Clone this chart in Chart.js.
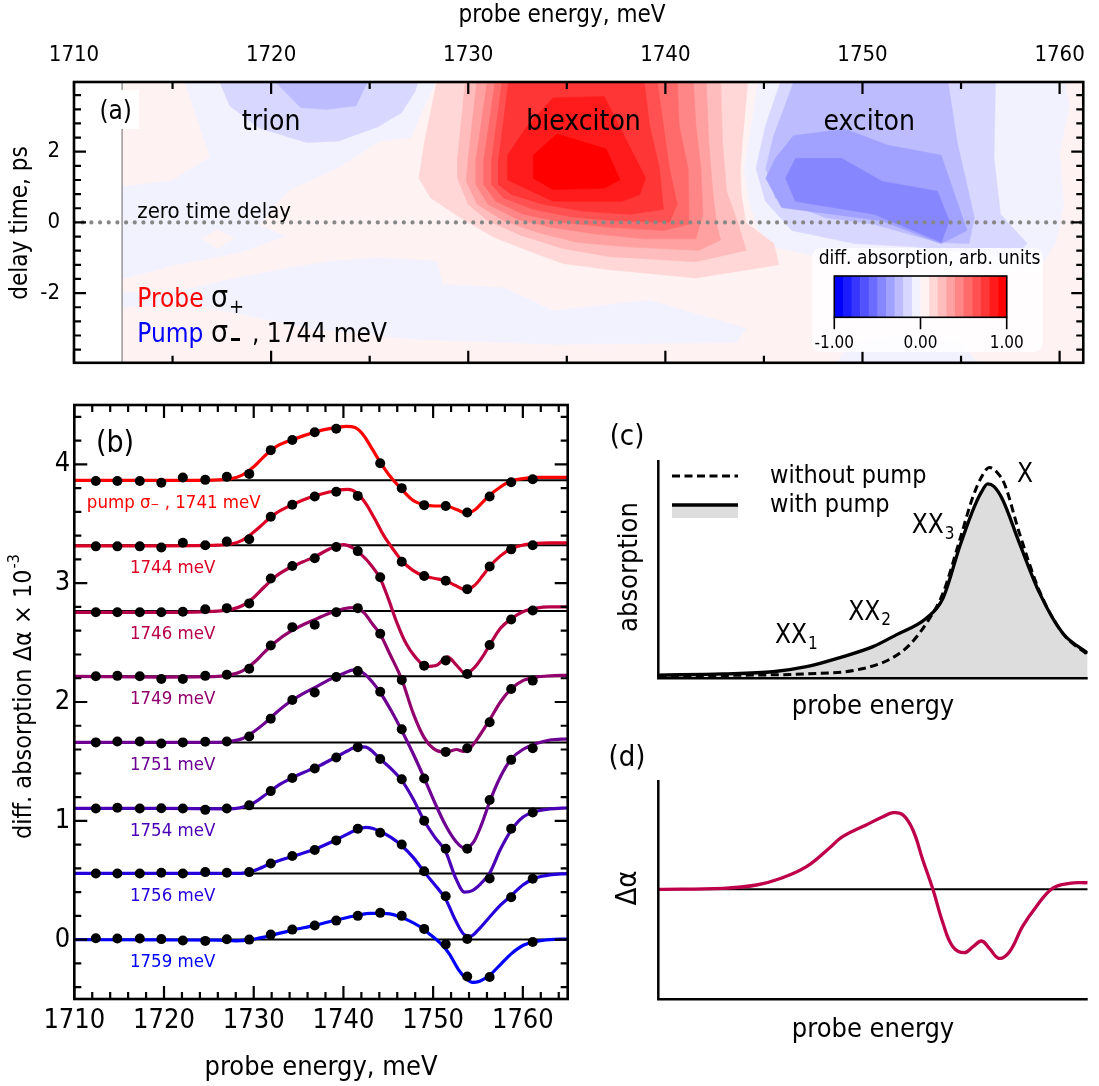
<!DOCTYPE html>
<html>
<head>
<meta charset="utf-8">
<script src="https://cdn.jsdelivr.net/npm/chart.js"></script>
<style>
  body { margin: 0; background: #fff; width: 1099px; height: 1086px; position: relative; overflow: hidden; }
  canvas { position: absolute; }
  #ca { left: 0; top: 0; }
  #cb { left: 0; top: 370px; }
  #cc { left: 590px; top: 400px; }
  #cd { left: 590px; top: 730px; }
</style>
</head>
<body>
<canvas id="ca" width="1099" height="390"></canvas>
<canvas id="cb" width="580" height="716"></canvas>
<canvas id="cc" width="509" height="330"></canvas>
<canvas id="cd" width="509" height="356"></canvas>
<script>
var FONT = "'DejaVu Sans Condensed', 'DejaVu Sans', sans-serif";
Chart.defaults.font.family = FONT;
Chart.defaults.color = '#000';

// ---------- panel (a): probe energy vs delay map ----------
var topTicks = [1710, 1720, 1730, 1740, 1750, 1760];
var topMinor = [1715, 1725, 1735, 1745, 1755];
var delayTicks = [-2, 0, 2];
var delayMinor = [-3.6, -3.2, -2.8, -2.4, -1.6, -1.2, -0.8, -0.4, 0.4, 0.8, 1.2, 1.6, 2.4, 2.8, 3.2, 3.6];
var colorbarTicks = [-1, 0, 1];

// contour outlines [probe energy meV, delay ps]
var mapArea = [[1712.44,-4.1],[1762,-4.1],[1762,4.1],[1712.44,4.1]];
var faintBlueNW = [[1715.55,4.1],[1716.9,1.84],[1715.0,1.19],[1712.44,1.0],[1712.44,-1.6],[1715.0,-1.22],[1718.4,-0.85],[1720.75,-0.38],[1719.4,-0.1],[1720.1,0.45],[1720.9,0.91],[1723.45,1.56],[1725.5,2.3],[1727.1,2.4],[1727.5,2.95],[1728.45,4.1]];
var faintPinkDot = [[1716.5,-0.45],[1717.3,-0.2],[1718.1,-0.45],[1717.3,-0.75]];
var faintBlueS = [[1712.44,-2.0],[1715.7,-1.9],[1718,-1.6],[1720.8,-1.3],[1723,-1.1],[1725.4,-1.0],[1728.4,-1.1],[1728.7,-1.75],[1731.8,-1.85],[1734.3,-2.5],[1739.2,-2.2],[1744.1,-3.0],[1743.6,-3.4],[1734.3,-3.45],[1727.1,-3.3],[1722,-3.0],[1718.5,-2.6],[1715.7,-2.3],[1712.44,-2.4]];
var faintBlueE = [[1744.74,4.1],[1744.3,2.5],[1744.0,1.5],[1744.3,0.5],[1744.7,-0.2],[1745.6,-0.7],[1748,-1.0],[1752,-1.15],[1756,-1.3],[1759,-1.25],[1759.8,-0.6],[1760.2,0.5],[1760.0,2.0],[1760.5,3.3],[1760.2,4.1]];
var faintBlueSE = [[1748.5,-4.1],[1749.5,-3.4],[1752,-3.2],[1755,-3.4],[1756,-4.1]];

var biex2 = [[1728.45,4.1],[1727.78,2.27],[1727.5,1.25],[1728.1,0.69],[1729.6,0.14],[1731.3,-0.42],[1733.0,-0.79],[1734.8,-1.16],[1737.2,-1.34],[1741.55,-1.57],[1745.75,-1.2],[1745.5,-0.6],[1744.07,0.0],[1743.85,0.8],[1743.8,1.5],[1743.9,2.27],[1744.2,4.1]];
var biex3 = [[1729.87,4.1],[1729.46,1.81],[1729.46,1.25],[1730.0,0.51],[1731.0,0.05],[1732.7,-0.37],[1734.8,-0.74],[1737.2,-0.97],[1741.55,-1.11],[1744.1,-0.79],[1743.7,-0.05],[1743.1,0.88],[1742.9,2.27],[1742.8,4.1]];
var biex4 = [[1730.46,4.1],[1730.0,1.81],[1729.9,1.16],[1730.46,0.51],[1731.8,0.05],[1733.5,-0.28],[1735.5,-0.56],[1738.0,-0.69],[1741.7,-0.79],[1742.8,-0.5],[1742.6,-0.05],[1742.4,0.88],[1742.2,2.27],[1742.06,4.1]];
var biex5 = [[1731.0,4.1],[1730.4,1.81],[1730.4,1.06],[1731.0,0.51],[1732.5,0.09],[1734.2,-0.14],[1736.4,-0.32],[1738.9,-0.46],[1741.55,-0.46],[1741.9,0.23],[1741.8,1.53],[1741.55,2.73],[1741.4,4.1]];
var biex6 = [[1731.4,4.1],[1730.8,1.81],[1730.8,1.06],[1731.4,0.6],[1732.8,0.23],[1734.8,0.0],[1737.2,-0.14],[1739.9,-0.23],[1741.2,-0.05],[1741.15,1.53],[1740.7,2.73],[1740.6,4.1]];
var biex7 = [[1731.75,4.1],[1731.2,1.81],[1731.2,1.06],[1731.8,0.69],[1733.3,0.37],[1735.2,0.16],[1737.5,0.05],[1740.2,0.0],[1740.6,0.51],[1740.2,1.53],[1739.9,2.73],[1739.56,4.1]];
var biex8 = [[1732.07,4.1],[1731.55,1.81],[1731.55,1.06],[1732.2,0.79],[1733.8,0.51],[1735.8,0.32],[1738.2,0.23],[1739.9,0.37],[1739.7,1.53],[1739.2,2.73],[1738.9,4.1]];
var biex9 = [[1732.0,1.9],[1733.0,2.73],[1734.3,3.52],[1736.9,3.56],[1737.9,2.45],[1739.0,1.25],[1738.7,0.79],[1737.8,0.6],[1734.3,0.6],[1732.0,1.2]];
var biex10 = [[1733.3,1.9],[1734.5,2.5],[1737.0,2.08],[1737.7,1.2],[1736.9,0.97],[1734.3,0.93],[1733.3,1.25]];

var trion2 = [[1717.3,4.1],[1717.9,3.3],[1719.4,2.67],[1721.8,2.26],[1723.4,2.3],[1725.4,2.7],[1726.6,3.1],[1727.3,3.7],[1727.5,4.1]];
var trion3 = [[1720.0,4.1],[1721.5,3.25],[1722.8,3.2],[1724.3,3.3],[1725.0,4.1]];

var exc2 = [[1745.92,4.1],[1745.08,2.73],[1744.6,1.53],[1745.08,0.6],[1746.43,-0.23],[1749.62,-0.6],[1752.64,-0.69],[1755.67,-0.88],[1757.68,-0.97],[1758.35,-0.6],[1757.0,0.23],[1756.67,1.81],[1756.75,4.1]];
var exc3 = [[1746.6,4.1],[1745.5,2.45],[1745.1,1.53],[1745.58,0.69],[1748.1,0.14],[1750.6,-0.05],[1753.8,-0.56],[1755.4,-0.6],[1755.67,0.14],[1754.8,2.27],[1754.3,4.1]];
var exc4 = [[1746.5,2.45],[1745.58,1.81],[1745.1,1.25],[1745.9,0.42],[1750.96,0.05],[1753.99,-0.6],[1755.3,-0.23],[1753.99,1.9],[1751.3,2.18],[1749.1,2.64]];
var exc5 = [[1746.6,1.81],[1746.1,1.25],[1746.6,0.6],[1750.6,0.23],[1754.0,-0.56],[1754.4,0.05],[1753.8,0.88],[1751.0,1.16],[1748.95,1.81]];

// contour level of each outline (tenths of full scale, sign = red/blue)
var mapLayers = [
  [mapArea, 1], [faintBlueNW, -1], [faintPinkDot, 1], [faintBlueS, -1], [faintBlueE, -1], [faintBlueSE, -1],
  [biex2, 2], [biex3, 3], [biex4, 4], [biex5, 5], [biex6, 6], [biex7, 7], [biex8, 8], [biex9, 9], [biex10, 10],
  [trion2, -2], [trion3, -3],
  [exc2, -2], [exc3, -3], [exc4, -4], [exc5, -5]
];

// ---------- panel (b): spectra ----------
var probeE = [1712.4,1714.8,1717.3,1719.7,1722.1,1724.6,1727.0,1729.5,1731.9,1734.3,1736.8,1739.2,1741.6,1744.1,1746.5,1749.0,1751.4,1753.8,1756.3,1758.7,1761.1];
var pumpLabels = ['pump \u03c3\u208b , 1741 meV', '1744 meV', '1746 meV', '1749 meV', '1751 meV', '1754 meV', '1756 meV', '1759 meV'];
var offsets = [3.867, 3.319, 2.765, 2.217, 1.66, 1.105, 0.557, 0];
var energyTicks = [1710, 1720, 1730, 1740, 1750, 1760];
var energyMinor = [1712,1714,1716,1718,1722,1724,1726,1728,1732,1734,1736,1738,1742,1744,1746,1748,1752,1754,1756,1758,1762,1764];
var dAlphaTicks = [0, 1, 2, 3, 4];
var dAlphaMinor = [-0.4,-0.2,0.2,0.4,0.6,0.8,1.2,1.4,1.6,1.8,2.2,2.4,2.6,2.8,3.2,3.4,3.6,3.8,4.2,4.4];

var dots1741 = [3.86,3.86,3.86,3.845,3.89,3.87,3.895,3.92,4.12,4.205,4.27,4.30,null,4.01,3.80,3.657,3.65,3.595,3.73,3.85,3.875];
var dots1744 = [3.31,3.31,3.31,3.30,3.34,3.32,3.35,3.37,3.56,3.66,3.73,3.77,3.735,null,3.18,3.06,3.02,2.95,3.14,3.285,3.32];
var dots1746 = [2.756,2.756,2.756,2.756,2.76,2.78,2.79,2.83,3.04,3.145,3.21,3.305,3.27,3.05,null,2.306,2.35,2.236,2.48,2.695,2.77];
var dots1749 = [2.217,2.22,2.217,2.194,2.194,2.22,2.23,2.28,2.475,2.63,2.65,2.756,2.79,2.574,2.186,null,1.58,1.61,1.83,2.11,2.18];
var dots1751 = [1.66,1.668,1.668,1.651,1.66,1.665,1.668,1.71,1.86,2.017,2.08,2.21,2.26,2.087,1.77,1.356,null,0.765,1.175,1.513,1.61];
var dots1754 = [1.103,1.11,1.103,1.106,1.103,1.092,1.103,1.13,1.25,1.36,1.44,1.533,1.62,1.52,1.35,1.0,0.765,null,0.515,0.934,1.07];
var dots1756 = [0.557,0.557,0.557,0.563,0.557,0.568,0.563,0.568,0.64,0.703,0.754,0.835,0.934,0.90,0.80,0.576,0.365,0.005,null,0.357,0.512];
var dots1759 = [0.012,0.01,0.01,0.004,-0.008,-0.011,0.003,0.0,0.042,0.084,0.118,0.16,0.20,0.225,0.20,0.09,-0.04,-0.31,-0.315,null,-0.02];

var fit1741 = [[1710,3.865],[1720,3.865],[1726,3.87],[1727.5,3.88],[1728.7,3.91],[1730,3.98],[1731.2,4.07],[1732.5,4.15],[1734,4.20],[1735.5,4.24],[1737,4.275],[1738,4.295],[1739.2,4.31],[1740.3,4.32],[1741.3,4.31],[1742.3,4.24],[1743.2,4.13],[1744.1,4.02],[1745.2,3.90],[1746.5,3.79],[1747.7,3.70],[1749,3.66],[1750.2,3.65],[1751.4,3.65],[1752.6,3.62],[1753.7,3.59],[1754.7,3.62],[1755.5,3.68],[1756.3,3.74],[1757.5,3.81],[1758.7,3.86],[1760,3.88],[1761.5,3.89],[1763,3.89],[1765,3.89]];
var fit1744 = [[1710,3.315],[1720,3.315],[1726,3.32],[1727.5,3.33],[1728.7,3.36],[1730,3.43],[1731.2,3.51],[1732.5,3.59],[1734,3.65],[1735.5,3.70],[1737,3.74],[1738.3,3.765],[1739.5,3.785],[1740.5,3.79],[1741.5,3.76],[1742.5,3.67],[1743.5,3.54],[1744.5,3.40],[1745.5,3.29],[1746.5,3.19],[1747.7,3.11],[1749,3.06],[1750.2,3.04],[1751.4,3.02],[1752.5,2.98],[1753.6,2.945],[1754.6,2.98],[1755.5,3.06],[1756.3,3.14],[1757.5,3.23],[1758.7,3.29],[1760,3.32],[1761.5,3.335],[1763,3.34],[1765,3.34]];
var fit1746 = [[1710,2.755],[1720,2.755],[1726,2.765],[1727.5,2.78],[1728.7,2.81],[1730,2.88],[1731.2,2.97],[1732.5,3.06],[1734,3.13],[1735.5,3.18],[1737,3.23],[1738.5,3.29],[1740,3.325],[1741,3.30],[1742,3.24],[1743,3.16],[1744.1,3.04],[1745,2.87],[1746,2.66],[1747,2.49],[1748,2.38],[1749.2,2.30],[1750.4,2.31],[1751.6,2.38],[1752.6,2.31],[1753.6,2.24],[1754.6,2.29],[1755.5,2.38],[1756.3,2.48],[1757.5,2.62],[1758.7,2.70],[1760,2.76],[1761.5,2.79],[1763,2.80],[1765,2.80]];
var fit1749 = [[1710,2.215],[1720,2.21],[1726,2.215],[1727.5,2.23],[1728.7,2.26],[1730,2.33],[1731.2,2.42],[1732.5,2.51],[1734,2.59],[1735.5,2.65],[1737,2.70],[1738.5,2.75],[1740,2.785],[1741.2,2.795],[1742.3,2.75],[1743.3,2.65],[1744.1,2.57],[1745.2,2.40],[1746.5,2.19],[1747.8,1.90],[1749,1.70],[1750,1.61],[1751,1.58],[1751.8,1.585],[1752.6,1.60],[1753.4,1.585],[1754.2,1.62],[1755.2,1.72],[1756.3,1.85],[1757.5,2.0],[1758.7,2.11],[1760,2.18],[1761.5,2.21],[1763,2.22],[1765,2.225]];
var fit1751 = [[1710,1.66],[1720,1.66],[1726,1.66],[1727.5,1.67],[1728.7,1.69],[1730,1.75],[1731.2,1.82],[1732.5,1.91],[1734,2.0],[1735.5,2.07],[1737,2.13],[1738.5,2.19],[1740,2.24],[1741.2,2.27],[1742.3,2.24],[1743.2,2.17],[1744.1,2.08],[1745.3,1.93],[1746.5,1.76],[1747.8,1.56],[1749,1.36],[1750.2,1.15],[1751.4,0.96],[1752.5,0.83],[1753.5,0.77],[1754.5,0.82],[1755.4,0.97],[1756.3,1.16],[1757.5,1.37],[1758.7,1.52],[1760,1.60],[1761.5,1.65],[1763,1.68],[1765,1.69]];
var fit1754 = [[1710,1.105],[1720,1.105],[1727,1.10],[1728.5,1.11],[1730,1.15],[1731.5,1.23],[1733,1.31],[1734.5,1.37],[1736,1.42],[1737.5,1.47],[1739,1.53],[1740.5,1.59],[1741.6,1.625],[1742.5,1.62],[1743.3,1.58],[1744.1,1.52],[1745.3,1.44],[1746.5,1.34],[1747.8,1.18],[1749,1.0],[1750.2,0.86],[1751.4,0.74],[1752.5,0.52],[1753.5,0.40],[1754.3,0.41],[1755.3,0.47],[1756.3,0.56],[1757.5,0.76],[1758.7,0.92],[1760,1.03],[1761.5,1.08],[1763,1.10],[1765,1.11]];
var fit1756 = [[1710,0.557],[1720,0.557],[1727,0.557],[1728.5,0.558],[1730,0.58],[1731.9,0.64],[1734.3,0.70],[1736.8,0.76],[1739.2,0.84],[1740.5,0.89],[1741.6,0.93],[1742.5,0.945],[1743.3,0.935],[1744.1,0.91],[1745.3,0.86],[1746.5,0.79],[1747.8,0.69],[1749,0.57],[1750.2,0.46],[1751.4,0.34],[1752.5,0.16],[1753.5,0.04],[1754.2,0.03],[1755,0.08],[1756.3,0.19],[1757.5,0.29],[1758.7,0.37],[1760,0.46],[1761.5,0.52],[1763,0.545],[1765,0.555]];
var fit1759 = [[1710,0.0],[1720,-0.003],[1726,-0.005],[1728,-0.01],[1729.5,-0.003],[1730.7,0.015],[1731.9,0.035],[1734.3,0.08],[1736.8,0.12],[1739.2,0.165],[1741.6,0.205],[1743,0.22],[1744.5,0.22],[1746,0.20],[1747.3,0.16],[1748.5,0.11],[1749.7,0.04],[1750.8,-0.03],[1751.8,-0.12],[1752.8,-0.25],[1753.7,-0.33],[1754.4,-0.36],[1755.2,-0.35],[1756.3,-0.30],[1757.5,-0.21],[1758.7,-0.12],[1760,-0.05],[1761.5,-0.015],[1763,0.0],[1765,0.005]];

var dotSets = [dots1741, dots1744, dots1746, dots1749, dots1751, dots1754, dots1756, dots1759];
var fitSets = [fit1741, fit1744, fit1746, fit1749, fit1751, fit1754, fit1756, fit1759];
var lineColors = ['rgb(255,0,0)', 'rgb(219,0,36)', 'rgb(182,0,73)', 'rgb(146,0,109)', 'rgb(109,0,146)', 'rgb(73,0,182)', 'rgb(36,0,219)', 'rgb(0,0,255)'];

// ---------- panel (c): sketch of absorption ----------
var withoutPump = [[0,1.0],[22.9,1.5],[34.5,2.0],[46.1,3.8],[53.9,8.7],[58.5,15.3],[63.2,27.5],[66.3,39.0],[70.2,63.4],[73.3,83.3],[75.5,93],[77.1,96.6],[78.8,94.5],[80.6,89.1],[84.1,66.5],[88.8,39.8],[94.2,20.6],[100,10.8]];
var withPump = [[0,1.5],[15.1,2.0],[26.7,3.0],[34.5,5.3],[42.3,9.5],[50,14.5],[55.4,19.9],[62.4,27.5],[66.3,36.7],[70.2,60.4],[73.3,77.2],[75.3,85.5],[76.7,89.1],[78.2,87.8],[80.2,81.8],[84.1,61.9],[88.8,39.0],[94.2,20.6],[100,11.5]];

// ---------- panel (d): sketch of difference ----------
var dAlphaSketch = [[0,0],[15.1,1],[22.9,4.3],[28.6,11],[34.5,22.6],[39.8,41],[42.9,52.6],[48.4,64.3],[52.3,72.6],[54.7,76.6],[57.0,74.3],[59.3,59.3],[61.6,29.3],[64,-0.7],[66.3,-34],[68.6,-57.4],[71.3,-63.4],[73.3,-57.4],[75.3,-51.7],[77.1,-59],[79.3,-69],[81.8,-62.4],[84.8,-37.4],[88,-17.4],[91.8,1],[95.7,6],[100,6.6]];

// ---------- helpers ----------
function levelColor(L) {
  var k = Math.abs(L);
  var g = Math.round(255 * (1 - (2 * k - 1) / 19));
  return L > 0 ? 'rgb(255,' + g + ',' + g + ')' : 'rgb(' + g + ',' + g + ',255)';
}
function xy(pts) { return pts.map(function (p) { return {x: p[0], y: p[1]}; }); }
function text(ctx, s, x, y, size, color, align) {
  ctx.font = size + 'px ' + FONT;
  ctx.fillStyle = color || '#000';
  ctx.textAlign = align || 'left';
  ctx.textBaseline = 'middle';
  ctx.fillText(s, x, y);
  return ctx.measureText(s).width;
}
function vtext(ctx, s, x, y, size) {
  ctx.save();
  ctx.translate(x, y);
  ctx.rotate(-Math.PI / 2);
  text(ctx, s, 0, 0, size, '#000', 'center');
  ctx.restore();
}
function frame(ctx, a, w) {
  ctx.lineWidth = w;
  ctx.strokeStyle = '#000';
  ctx.strokeRect(a.left, a.top, a.right - a.left, a.bottom - a.top);
}
function xTickMarks(ctx, scale, a, values, len) {
  values.forEach(function (v) {
    var p = scale.getPixelForValue(v);
    ctx.moveTo(p, a.top); ctx.lineTo(p, a.top + len);
    ctx.moveTo(p, a.bottom); ctx.lineTo(p, a.bottom - len);
  });
}
function yTickMarks(ctx, scale, a, values, len) {
  values.forEach(function (v) {
    var p = scale.getPixelForValue(v);
    ctx.moveTo(a.left, p); ctx.lineTo(a.left + len, p);
    ctx.moveTo(a.right, p); ctx.lineTo(a.right - len, p);
  });
}
function fixedTicks(list) {
  return function (s) { s.ticks = list.map(function (v) { return {value: v}; }); };
}
var noLegend = { legend: { display: false }, tooltip: { enabled: false } };

// ---------- chart (a) ----------
var mapDatasets = mapLayers.map(function (l) {
  var c = levelColor(l[1]);
  var pts = l[0].concat([l[0][0]]);
  return { data: xy(pts), borderColor: c, backgroundColor: c, borderWidth: 0.6, fill: 'shape', pointRadius: 0, tension: 0 };
});
mapDatasets.push({ data: [{x: 1710, y: 0}, {x: 1761.2, y: 0}], borderColor: 'rgb(135,135,135)', borderWidth: 4.2, borderDash: [0.01, 8.67], borderCapStyle: 'round', pointRadius: 0, fill: false });
mapDatasets.push({ data: [{x: 1712.44, y: -3.972}, {x: 1712.44, y: 3.972}], borderColor: 'rgb(128,128,128)', borderWidth: 1.2, pointRadius: 0, fill: false });
mapDatasets.forEach(function (d, i) { d.order = mapDatasets.length - i; });

var panelA = {
  id: 'panelA',
  afterDatasetsDraw: function (chart) {
    var ctx = chart.ctx, a = chart.chartArea, x = chart.scales.x, y = chart.scales.y;
    ctx.save();
    ctx.fillStyle = '#fff';
    ctx.fillRect(94, 90, 45, 39);
    frame(ctx, a, 2.6);
    ctx.lineWidth = 2.2;
    ctx.beginPath();
    xTickMarks(ctx, x, a, topTicks, 12);
    xTickMarks(ctx, x, a, topMinor, 7);
    yTickMarks(ctx, y, a, delayTicks, 12);
    yTickMarks(ctx, y, a, delayMinor, 7);
    ctx.stroke();

    text(ctx, '(a)', 115.7, 112.7, 26, '#000', 'center');
    text(ctx, 'trion', x.getPixelForValue(1720.0), y.getPixelForValue(2.81), 28, '#000', 'center');
    text(ctx, 'biexciton', x.getPixelForValue(1735.85), y.getPixelForValue(2.82), 28, '#000', 'center');
    text(ctx, 'exciton', x.getPixelForValue(1750.34), y.getPixelForValue(2.82), 28, '#000', 'center');
    text(ctx, 'zero time delay', 137.3, 212, 22);

    text(ctx, 'Probe', 137.3, 300, 26, 'rgb(255,0,0)');
    text(ctx, '\u03c3', 211, 299, 30, '#000');
    text(ctx, '+', 229, 308, 20, '#000');
    text(ctx, 'Pump', 137.3, 335, 26, 'rgb(0,0,255)');
    text(ctx, '\u03c3', 211, 334, 30, '#000');
    ctx.fillStyle = '#000';
    ctx.fillRect(231, 338, 9, 3);
    text(ctx, ', 1744 meV', 252, 335, 26, '#000');

    text(ctx, 'probe energy, meV', 562, 16, 24, '#000', 'center');
    vtext(ctx, 'delay time, ps', 21, 223, 24);

    // colour bar inset
    ctx.fillStyle = 'rgba(255,255,255,0.85)';
    ctx.beginPath();
    ctx.roundRect(812, 248, 231, 104, 9);
    ctx.fill();
    text(ctx, 'diff. absorption, arb. units', 929.5, 259.5, 19, '#000', 'center');
    var cbL = 834.3, cbR = 1006.7, cbT = 276, cbB = 317.3;
    var cbX = function (v) { return cbL + (v + 1) / 2 * (cbR - cbL); };
    for (var i = 0; i < 20; i++) {
      var lev = i < 10 ? -(10 - i) : i - 9;
      ctx.fillStyle = levelColor(lev);
      ctx.fillRect(cbX(-1 + i * 0.1), cbT, cbX(-0.9 + i * 0.1) - cbX(-1 + i * 0.1) + 0.5, cbB - cbT);
    }
    ctx.lineWidth = 1.6;
    ctx.strokeStyle = '#000';
    ctx.strokeRect(cbL, cbT, cbR - cbL, cbB - cbT);
    ctx.beginPath();
    colorbarTicks.forEach(function (v) {
      ctx.moveTo(cbX(v), cbB); ctx.lineTo(cbX(v), cbB + 12);
      text(ctx, v.toFixed(2), cbX(v), 343.5, 17, '#000', 'center');
    });
    ctx.stroke();
    ctx.restore();
  }
};

new Chart(document.getElementById('ca'), {
  type: 'line',
  data: { datasets: mapDatasets },
  options: {
    responsive: false, animation: false, events: [],
    layout: { padding: { right: 9, bottom: 22 } },
    plugins: noLegend,
    scales: {
      x: {
        type: 'linear', position: 'top', min: 1710, max: 1761.2,
        grid: { display: false, drawTicks: false }, border: { display: false },
        afterBuildTicks: fixedTicks(topTicks),
        afterFit: function (s) { s.height = 82; },
        ticks: { font: { size: 22 }, padding: 14, color: '#000', maxRotation: 0, autoSkip: false, callback: function (v) { return String(v); } }
      },
      y: {
        type: 'linear', min: -3.972, max: 3.972,
        grid: { display: false, drawTicks: false }, border: { display: false },
        afterBuildTicks: fixedTicks(delayTicks),
        afterFit: function (s) { s.width = 74; },
        ticks: { font: { size: 22 }, padding: 14, color: '#000', callback: function (v) { return String(v); } }
      }
    }
  },
  plugins: [panelA]
});

// ---------- chart (b) ----------
var specDatasets = [];
offsets.forEach(function (b) {
  specDatasets.push({ data: [{x: 1710, y: b}, {x: 1765, y: b}], borderColor: '#000', borderWidth: 2, pointRadius: 0, fill: false, order: 3 });
});
fitSets.forEach(function (f, i) {
  specDatasets.push({ data: xy(f), borderColor: lineColors[i], borderWidth: 3.2, pointRadius: 0, fill: false, cubicInterpolationMode: 'monotone', order: 2 });
});
dotSets.forEach(function (d) {
  specDatasets.push({ data: probeE.map(function (e, j) { return {x: e, y: d[j]}; }), showLine: false, pointRadius: 5, pointBackgroundColor: '#000', pointBorderWidth: 0, order: 1 });
});

var panelB = {
  id: 'panelB',
  afterDatasetsDraw: function (chart) {
    var ctx = chart.ctx, a = chart.chartArea, x = chart.scales.x, y = chart.scales.y;
    ctx.save();
    frame(ctx, a, 2.6);
    ctx.lineWidth = 2.2;
    ctx.beginPath();
    xTickMarks(ctx, x, a, energyTicks, 13);
    xTickMarks(ctx, x, a, energyMinor, 7);
    yTickMarks(ctx, y, a, dAlphaTicks, 13);
    yTickMarks(ctx, y, a, dAlphaMinor, 7);
    ctx.stroke();
    text(ctx, '(b)', 115, 74, 30, '#000', 'center');
    pumpLabels.forEach(function (s, i) {
      var e = i === 0 ? 1711.4 : 1716.2;
      text(ctx, s, x.getPixelForValue(e), y.getPixelForValue(offsets[i] - 0.19), 18.5, lineColors[i]);
    });
    text(ctx, 'probe energy, meV', 321, 698, 27, '#000', 'center');
    // y title with superscript
    ctx.save();
    ctx.translate(24, 327);
    ctx.rotate(-Math.PI / 2);
    ctx.font = '25px ' + FONT;
    var main = 'diff. absorption \u0394\u03b1 \u00d7 10';
    var w1 = ctx.measureText(main).width;
    ctx.font = '16px ' + FONT;
    var w2 = ctx.measureText('-3').width;
    var start = -(w1 + w2) / 2;
    text(ctx, main, start, 0, 25);
    text(ctx, '-3', start + w1 + 1, -9, 16);
    ctx.restore();
    ctx.restore();
  }
};

new Chart(document.getElementById('cb'), {
  type: 'line',
  data: { datasets: specDatasets },
  options: {
    responsive: false, animation: false, events: [],
    layout: { padding: { top: 35, right: 12.3 } },
    plugins: noLegend,
    scales: {
      x: {
        type: 'linear', min: 1710, max: 1765,
        grid: { display: false, drawTicks: false }, border: { display: false },
        afterBuildTicks: fixedTicks(energyTicks),
        afterFit: function (s) { s.height = 87; },
        ticks: { font: { size: 27 }, padding: 6, color: '#000', maxRotation: 0, autoSkip: false, callback: function (v) { return String(v); } }
      },
      y: {
        type: 'linear', min: -0.5, max: 4.5,
        grid: { display: false, drawTicks: false }, border: { display: false },
        afterBuildTicks: fixedTicks(dAlphaTicks),
        afterFit: function (s) { s.width = 74.3; },
        ticks: { font: { size: 27 }, padding: 4, color: '#000', callback: function (v) { return String(v); } }
      }
    }
  },
  plugins: [panelB]
});

// ---------- chart (c) ----------
function axesLines(ctx, a) {
  ctx.lineWidth = 2.5;
  ctx.strokeStyle = '#000';
  ctx.beginPath();
  ctx.moveTo(a.left, a.top); ctx.lineTo(a.left, a.bottom); ctx.lineTo(a.right, a.bottom);
  ctx.stroke();
}
function subLabel(ctx, main, sub, x, y) {
  var w = text(ctx, main, x, y, 26);
  text(ctx, sub, x + w + 1, y + 8, 17);
}
var panelC = {
  id: 'panelC',
  afterDatasetsDraw: function (chart) {
    var ctx = chart.ctx, a = chart.chartArea;
    ctx.save();
    axesLines(ctx, a);
    text(ctx, '(c)', 37, 37, 29, '#000', 'center');
    vtext(ctx, 'absorption', 40, 167, 27);
    text(ctx, 'probe energy', 283, 307, 27, '#000', 'center');
    // legend
    ctx.strokeStyle = '#000';
    ctx.lineWidth = 3;
    ctx.setLineDash([8, 4.5]);
    ctx.beginPath(); ctx.moveTo(82, 76); ctx.lineTo(148, 76); ctx.stroke();
    ctx.setLineDash([]);
    ctx.fillStyle = 'rgb(221,221,221)';
    ctx.fillRect(82, 106, 66, 12);
    ctx.lineWidth = 3.3;
    ctx.beginPath(); ctx.moveTo(82, 105); ctx.lineTo(148, 105); ctx.stroke();
    text(ctx, 'without pump', 180, 76, 25);
    text(ctx, 'with pump', 180, 105, 25);
    text(ctx, 'X', 435, 75, 26, '#000', 'center');
    subLabel(ctx, 'XX', '3', 321.7, 126.7);
    subLabel(ctx, 'XX', '2', 258.3, 213);
    subLabel(ctx, 'XX', '1', 185, 236.7);
    ctx.restore();
  }
};
new Chart(document.getElementById('cc'), {
  type: 'line',
  data: { datasets: [
    { data: xy(withPump), borderColor: '#000', borderWidth: 3.3, backgroundColor: 'rgb(221,221,221)', fill: 'origin', pointRadius: 0, cubicInterpolationMode: 'monotone', order: 2 },
    { data: xy(withoutPump), borderColor: '#000', borderWidth: 3, borderDash: [8, 4.5], fill: false, pointRadius: 0, cubicInterpolationMode: 'monotone', order: 1 }
  ] },
  options: {
    responsive: false, animation: false, events: [],
    layout: { padding: { left: 68.3, right: 11.3, top: 60, bottom: 51.7 } },
    plugins: noLegend,
    scales: { x: { type: 'linear', min: 0, max: 100, display: false }, y: { type: 'linear', min: 0, max: 100, display: false } }
  },
  plugins: [panelC]
});

// ---------- chart (d) ----------
var panelD = {
  id: 'panelD',
  afterDatasetsDraw: function (chart) {
    var ctx = chart.ctx, a = chart.chartArea;
    ctx.save();
    axesLines(ctx, a);
    text(ctx, '(d)', 37, 28, 29, '#000', 'center');
    vtext(ctx, '\u0394\u03b1', 38, 158, 29);
    text(ctx, 'probe energy', 283, 300, 27, '#000', 'center');
    ctx.restore();
  }
};
new Chart(document.getElementById('cd'), {
  type: 'line',
  data: { datasets: [
    { data: xy(dAlphaSketch), borderColor: 'rgb(190,0,75)', borderWidth: 3.3, fill: false, pointRadius: 0, tension: 0.4, order: 1 },
    { data: [{x: 0, y: 0}, {x: 100, y: 0}], borderColor: '#000', borderWidth: 2, fill: false, pointRadius: 0, order: 2 }
  ] },
  options: {
    responsive: false, animation: false, events: [],
    layout: { padding: { left: 68.3, right: 11.3, top: 50, bottom: 86.7 } },
    plugins: noLegend,
    scales: { x: { type: 'linear', min: 0, max: 100, display: false }, y: { type: 'linear', min: -110, max: 109.3, display: false } }
  },
  plugins: [panelD]
});
</script>
</body>
</html>
